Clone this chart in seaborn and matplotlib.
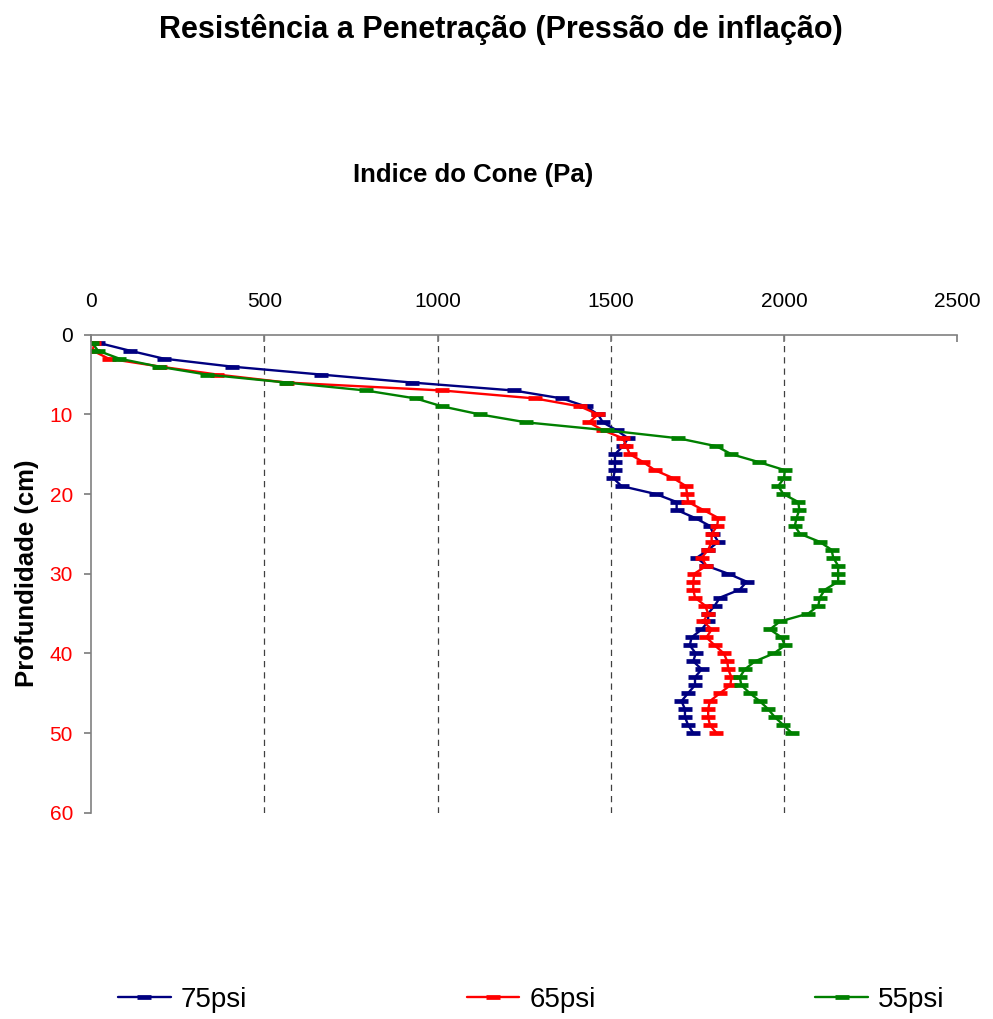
import numpy as np
import pandas as pd
import matplotlib
matplotlib.use("Agg")
import matplotlib.pyplot as plt
import seaborn as sns

depth = list(range(1, 51))
psi75 = [20, 112, 210, 406, 664, 926, 1220, 1359, 1428, 1463, 1477, 1517, 1550, 1535, 1512,
         1512, 1512, 1507, 1531, 1630, 1690, 1690, 1743, 1786, 1796, 1810, 1781, 1748, 1776, 1839,
         1892, 1872, 1815, 1800, 1781, 1781, 1762, 1733, 1728, 1745, 1738, 1762, 1743, 1743, 1723,
         1704, 1714, 1714, 1723, 1738]
psi65 = [10, 5, 51, 200, 365, 565, 1014, 1282, 1411, 1463, 1437, 1478, 1535, 1545, 1555,
         1594, 1627, 1680, 1717, 1720, 1723, 1767, 1810, 1807, 1791, 1791, 1781, 1762, 1776, 1741,
         1738, 1738, 1743, 1772, 1781, 1767, 1791, 1776, 1800, 1826, 1836, 1839, 1848, 1845, 1815,
         1786, 1781, 1781, 1786, 1805]
psi55 = [4, 20, 82, 195, 334, 563, 793, 937, 1014, 1122, 1256, 1490, 1695, 1805, 1848,
         1928, 2002, 2000, 1983, 1998, 2041, 2044, 2036, 2031, 2046, 2103, 2137, 2142, 2156, 2156,
         2156, 2118, 2103, 2099, 2070, 1988, 1959, 1993, 2002, 1971, 1916, 1887, 1872, 1877, 1901,
         1930, 1954, 1973, 1998, 2022]
series_names = ["75psi", "65psi", "55psi"]
colors = ["#000080", "#FF0000", "#008000"]
x_ticks = [0, 500, 1000, 1500, 2000, 2500]
y_ticks = [0, 10, 20, 30, 40, 50, 60]

title = "Resistência a Penetração (Pressão de inflação)"
xlabel = "Indice do Cone (Pa)"
ylabel = "Profundidade (cm)"

sns.set_theme(style="white")
plt.rcParams["font.family"] = ["Liberation Sans", "DejaVu Sans"]
plt.rcParams["text.color"] = "black"
plt.rcParams["axes.labelcolor"] = "black"
plt.rcParams["xtick.color"] = "black"
plt.rcParams["ytick.color"] = "black"

fig = plt.figure(figsize=(9.93, 10.19), dpi=100)
ax = fig.add_axes([0.0916, 0.2025, 0.8725, 0.469])

for name, vals, c in zip(series_names, [psi75, psi65, psi55], colors):
    d = pd.DataFrame({"valor": vals, "prof": depth})
    sns.lineplot(data=d, x="valor", y="prof", sort=False, estimator=None, orient="y",
                 color=c, marker="_", markersize=10.5, markeredgewidth=3.4,
                 markeredgecolor=c, linewidth=1.7, ax=ax, label=name)

ax.set_xlim(0, 2500)
ax.set_ylim(60, 0)
ax.set_xticks(x_ticks)
ax.set_yticks(y_ticks)
ax.xaxis.tick_top()
ax.xaxis.set_label_position("top")
ax.set_xlabel("")
ax.set_ylabel(ylabel, fontsize=18.5, fontweight="bold", color="black")
ax.yaxis.set_label_coords(-0.060, 0.5)

for s in ["right", "bottom"]:
    ax.spines[s].set_visible(False)
for s in ["left", "top"]:
    ax.spines[s].set_color("#808080")
    ax.spines[s].set_linewidth(1.2)

ax.tick_params(axis="x", top=True, bottom=False, direction="in", length=5,
               color="#808080", labelsize=15, pad=17, labelcolor="black")
ax.tick_params(axis="y", left=True, direction="out", length=5, color="#808080",
               labelsize=15, pad=8)
for i, lab in enumerate(ax.get_yticklabels()):
    lab.set_color("black" if i == 0 else "#FF0000")

ax.xaxis.grid(True, linestyle=(0, (5, 4)), color="#404040", linewidth=0.9)
ax.yaxis.grid(False)
gl = ax.get_xgridlines()
gl[0].set_visible(False)
gl[-1].set_visible(False)

handles, labels = ax.get_legend_handles_labels()
ax.get_legend().remove()
leg = fig.legend(handles, labels, loc="center", bbox_to_anchor=(0.535, 0.0186), ncol=3,
                 frameon=False, fontsize=20, handlelength=1.9, columnspacing=7.9,
                 handletextpad=0.36)

fig.text(0.504, 0.9706, title, ha="center", va="center", fontsize=22, fontweight="bold")
fig.text(0.476, 0.828, xlabel, ha="center", va="center", fontsize=18.5, fontweight="bold")

fig.savefig("out.png", dpi=100)
